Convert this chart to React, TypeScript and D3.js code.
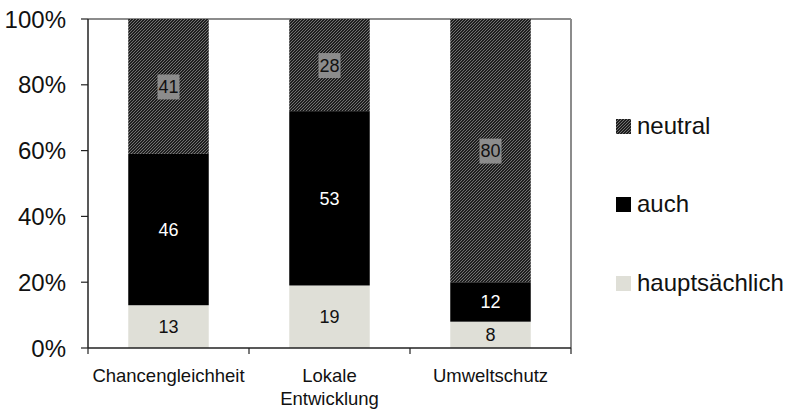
import React from "react";
import * as d3 from "d3";

const categories = [["Chancengleichheit"], ["Lokale", "Entwicklung"], ["Umweltschutz"]];
const seriesNames = ["hauptsächlich", "auch", "neutral"];
const hauptsaechlich = [13, 19, 8];
const auch = [46, 53, 12];
const neutral = [41, 28, 80];
const yTicks = [0, 20, 40, 60, 80, 100];

const W = 788, H = 410;
const left = 88, right = 571, top = 19, bottom = 348;

export default function App() {
  const x = d3.scaleBand<number>().domain([0, 1, 2]).range([left, right]).paddingInner(0.5).paddingOuter(0.25);
  const y = d3.scaleLinear().domain([0, 100]).range([bottom, top]);
  const rows = categories.map((c, i) => ({ i, hauptsächlich: hauptsaechlich[i], auch: auch[i], neutral: neutral[i] }));
  const stack = d3.stack<any>().keys(seriesNames)(rows);
  const fills = ["#dfdfd7", "#000000", "url(#hatch)"];
  const catStep = (right - left) / categories.length;
  const font = "Arial, 'Liberation Sans', sans-serif";

  return (
    <svg width={W} height={H} style={{ position: "absolute", left: 0, top: 0, fontFamily: font }}>
      <defs>
        <pattern id="hatch" width="3" height="3" patternUnits="userSpaceOnUse">
          <rect width="3" height="3" fill="#1e1e1e" />
          <path d="M-1,1 L1,-1 M0,3 L3,0 M2,4 L4,2" stroke="#7a7a7a" strokeWidth="0.9" />
        </pattern>
      </defs>
      <rect width={W} height={H} fill="#fff" />
      {/* plot frame top/right */}
      <line x1={left} x2={right} y1={top} y2={top} stroke="#8c8c8c" strokeWidth={2} />
      <line x1={right} x2={right} y1={top} y2={bottom} stroke="#8c8c8c" strokeWidth={2} />
      {stack.map((s, si) =>
        s.map((d, i) => (
          <rect key={`${si}-${i}`} x={x(i)} width={x.bandwidth()} y={y(d[1])} height={y(d[0]) - y(d[1])} fill={fills[si]} />
        ))
      )}
      {stack.map((s, si) =>
        s.map((d, i) => {
          const v = d[1] - d[0];
          const cx = (x(i) as number) + x.bandwidth() / 2;
          const cy = (y(d[0]) + y(d[1])) / 2;
          return (
            <g key={`l${si}-${i}`}>
              {si === 2 && <rect x={cx - 11} y={cy - 12} width={22} height={25} fill="#8c8c8c" />}
              <text x={cx} y={cy} dy="0.36em" textAnchor="middle" fontSize={18} fill={si === 1 ? "#fff" : "#111"}>
                {v}
              </text>
            </g>
          );
        })
      )}
      {/* axes */}
      <line x1={left} x2={left} y1={top} y2={bottom} stroke="#222" strokeWidth={1.5} />
      <line x1={left} x2={right} y1={bottom} y2={bottom} stroke="#222" strokeWidth={1.5} />
      {yTicks.map((t) => (
        <g key={t}>
          <line x1={left - 7} x2={left} y1={y(t)} y2={y(t)} stroke="#222" strokeWidth={1.2} />
          <text x={66} y={y(t)} dy="0.36em" textAnchor="end" fontSize={24} fill="#111">{t}%</text>
        </g>
      ))}
      {d3.range(categories.length + 1).map((k) => (
        <line key={k} x1={left + k * catStep} x2={left + k * catStep} y1={bottom} y2={bottom + 6} stroke="#222" strokeWidth={1.2} />
      ))}
      {categories.map((c, i) => (
        <text key={i} x={(x(i) as number) + x.bandwidth() / 2} y={382} textAnchor="middle" fontSize={18.5} fill="#111">
          {c.map((line, li) => (
            <tspan key={li} x={(x(i) as number) + x.bandwidth() / 2} dy={li === 0 ? 0 : 23}>{line}</tspan>
          ))}
        </text>
      ))}
      {/* legend */}
      {[2, 1, 0].map((si, k) => {
        const base = [134, 212, 291][k];
        return (
          <g key={si}>
            <rect x={616} y={base - 15} width={15} height={15} fill={fills[si]} />
            <text x={637} y={base} fontSize={24} fill="#111">{seriesNames[si]}</text>
          </g>
        );
      })}
    </svg>
  );
}
